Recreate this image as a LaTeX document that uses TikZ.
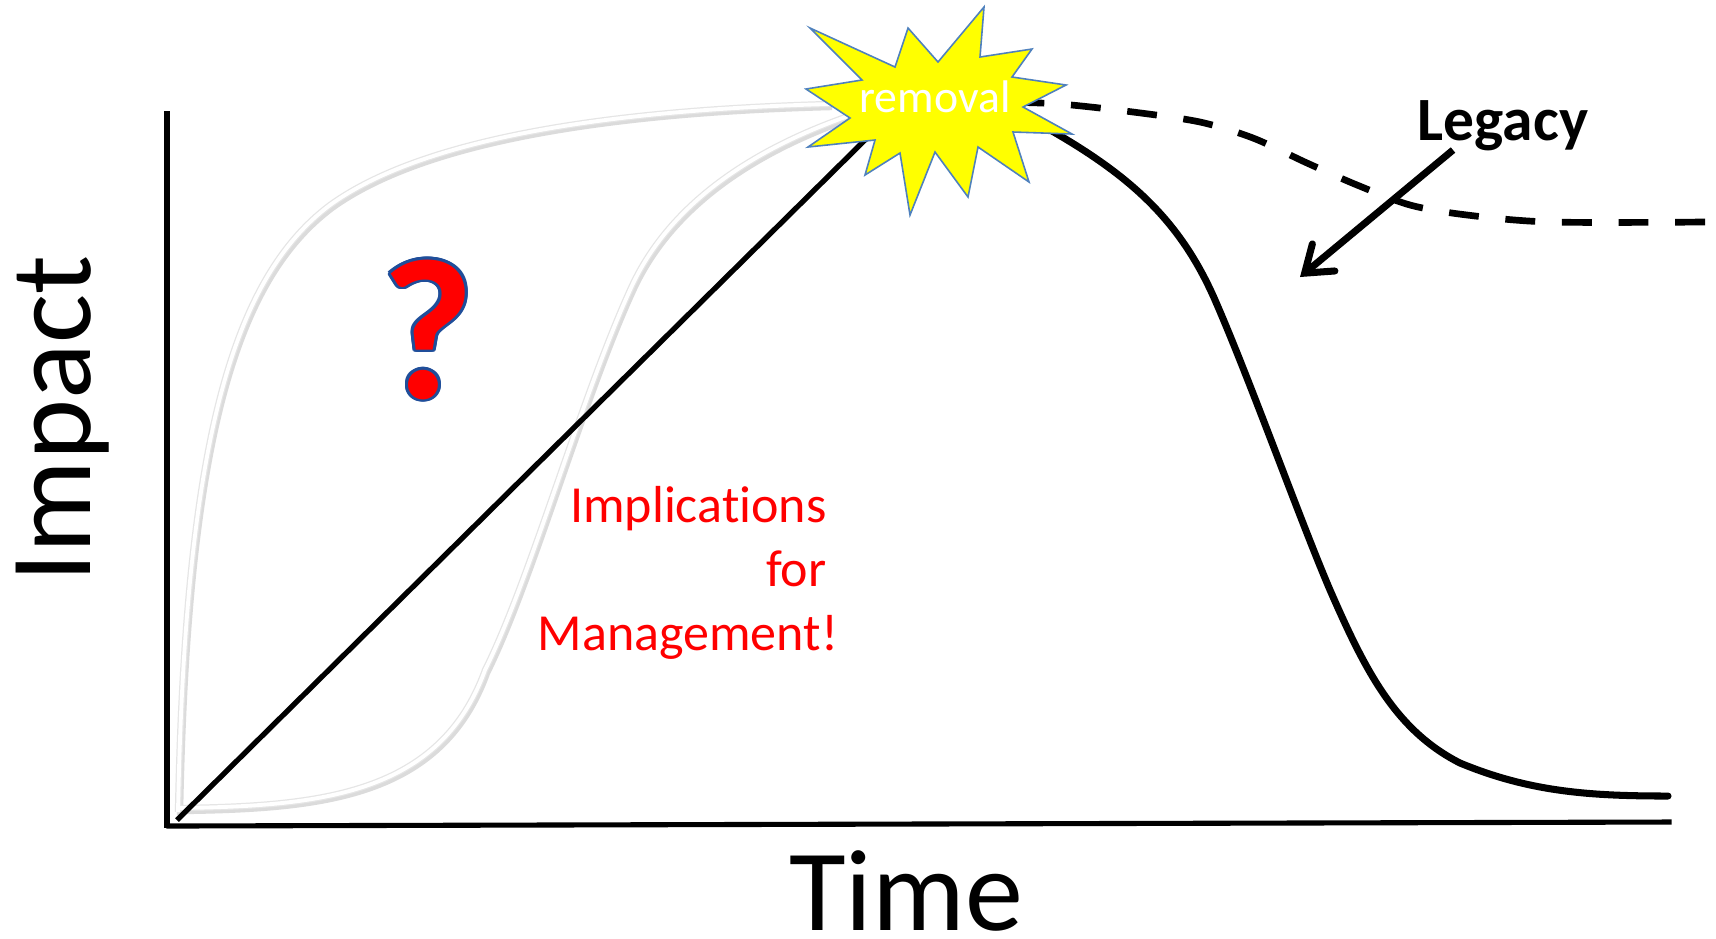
\documentclass[tikz,border=0pt]{standalone}
\usepackage{fontspec}
\setmainfont{Carlito}[Ligatures=CommonOff]
\usetikzlibrary{arrows.meta,positioning,calc}
\definecolor{burstyellow}{HTML}{FFFF00}
\definecolor{burstblue}{HTML}{4F81BD}
\definecolor{alertred}{HTML}{FF0000}
\definecolor{qblue}{HTML}{1F4E9A}

\begin{document}
\begin{tikzpicture}[x=0.01cm, y=-0.01cm, >=Latex,
  every node/.style={inner sep=0pt, outer sep=0pt},
  axisline/.style={line width=1.45pt, line cap=rect},
  trendline/.style={line width=1.5pt},
  dropline/.style={line width=2pt, line cap=round},
  legacyline/.style={line width=1.9pt, dash pattern=on 8.5pt off 7.6pt},
  legacyarrow/.style={line width=2pt, -{Straight Barb[length=7pt, width=10pt, line cap=round]}},
  bigtext/.style={font=\fontsize{33}{36}\selectfont}]

  \fill[white] (0,0) rectangle (1716,938);
  \useasboundingbox (0,0) rectangle (1716,938);

  % axes
  \draw[axisline] (167,114) -- (167,825);
  \draw[axisline] (169,826) -- (1669,822);
  \node[bigtext, anchor=base] (time) at (906,930) {Time};
  \node[bigtext, anchor=base, rotate=90] (impact) at (90,419) {Impact};

  % faint alternative build-up curves (shadow, rim, white core)
  \foreach \dx/\dy/\col/\wd in {2/3/black!14/1.8pt, 0/0/black!10/1.8pt, 0/0/white/1.1pt} {
    \draw[color=\col, line width=\wd, shift={(\dx,\dy)}]
      (178,812) .. controls (185,450) and (230,280) .. (330,205)
                .. controls (420,140) and (600,110) .. (830,104)
      (180,808) .. controls (320,806) and (440,795) .. (485,670)
                .. controls (530,580) and (580,400) .. (630,290)
                .. controls (670,200) and (760,145) .. (860,112);
  }

  % linear build-up
  \draw[trendline] (177,820) -- (866,139);

  % legacy level after removal
  \draw[legacyline] plot[smooth] coordinates {(1705,222) (1550,222) (1467,215) (1410,205)
    (1357,185) (1307,163) (1253,138) (1200,122) (1133,112) (1060,104) (1000,102)};

  % decline after removal
  \draw[dropline] (1045,127) .. controls (1130,175) and (1180,220) .. (1215,300)
    .. controls (1250,380) and (1300,520) .. (1330,590)
    .. controls (1365,670) and (1395,730) .. (1460,763)
    .. controls (1530,792) and (1590,796) .. (1668,796);

  % removal burst
  \draw[fill=burstyellow, draw=burstblue, line width=0.45pt, line join=miter]
    (810,28) -- (895,67) -- (908,28) -- (938,62) -- (984,7) -- (980,57)
    -- (1032,49) -- (1012,77) -- (1066,85) -- (1023,107) -- (1072,134)
    -- (1013,132) -- (1029,182) -- (978,147) -- (968,197) -- (935,152)
    -- (910,215) -- (900,153) -- (865,175) -- (875,140) -- (808,147)
    -- (850,118) -- (806,89) -- (862,80) -- cycle;
  \node[anchor=base, text=white, font=\fontsize{13}{15}\selectfont] (removal) at (935,112) {removal};

  % question mark with outline
  \foreach \a in {0,22.5,...,337.5}
    \node[anchor=base, text=qblue, font=\bfseries\fontsize{57}{60}\selectfont, shift={(\a:0.8pt)}] at (428,398) {?};
  \node[anchor=base, text=alertred, font=\bfseries\fontsize{57}{60}\selectfont] (question) at (428,398) {?};

  \node[anchor=base east, align=right, text=alertred, font=\fontsize{14.8}{18.2}\selectfont] (implications) at (838,650)
    {Implications\kern0.22em\\for\kern0.22em\\Management!};

  % legacy label
  \node[anchor=base, font=\bfseries\fontsize{17.5}{21}\selectfont] (legacy) at (1503,140) {Legacy};
  \coordinate (legacytip) at (1300,277);
  \draw[legacyarrow] ($(legacy.base)+(-50,10)$) -- (legacytip);
\end{tikzpicture}
\end{document}
